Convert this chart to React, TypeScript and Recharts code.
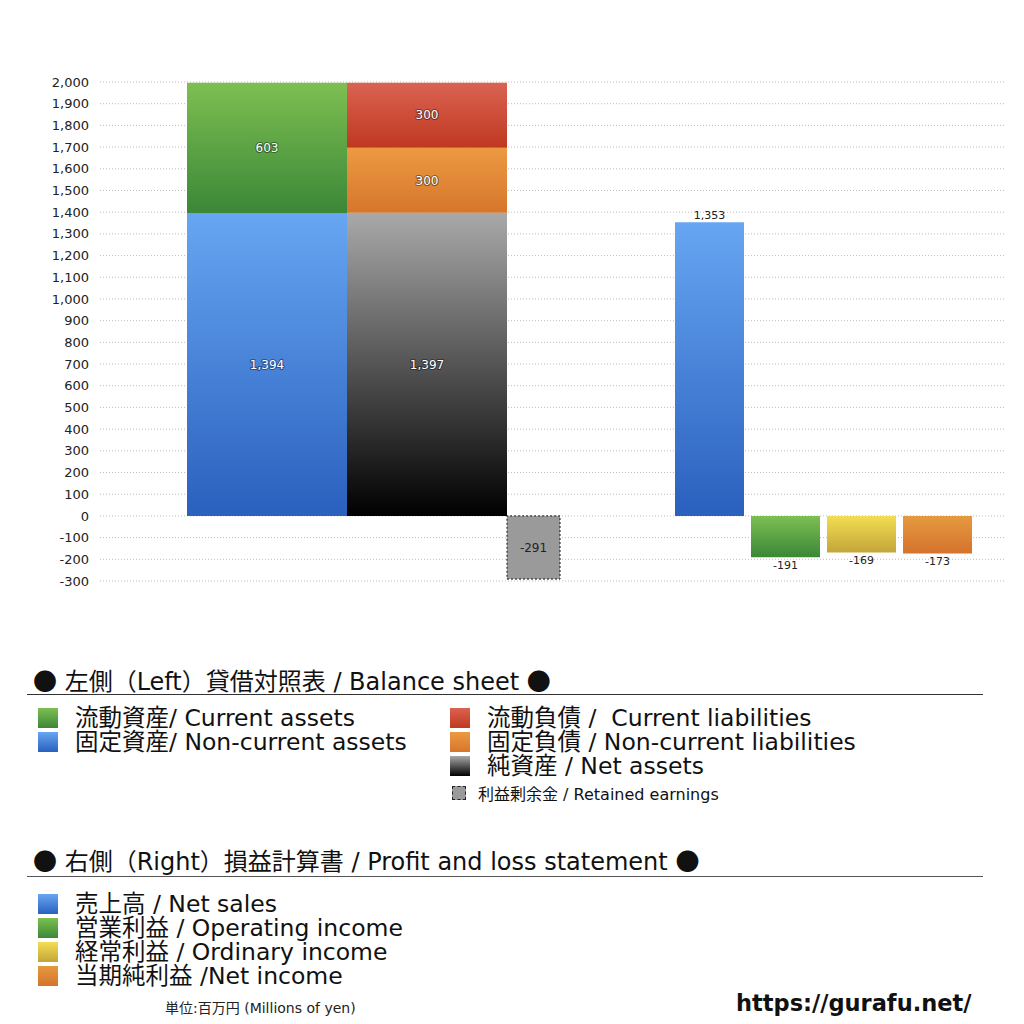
import { BarChart, Bar, XAxis, YAxis, CartesianGrid, LabelList } from "recharts";

// 左側：貸借対照表
const BS_LABELS = ["貸借対照表"];
const FIXED_ASSETS = [1394];
const CURRENT_ASSETS = [603];
const NET_ASSETS = [1397];
const NON_CURRENT_LIABILITIES = [300];
const CURRENT_LIABILITIES = [300];
const RETAINED_EARNINGS = [-291];

// 右側：損益計算書
const PL_LABELS = ["損益計算書"];
const NET_SALES = [1353];
const OPERATING_INCOME = [-191];
const ORDINARY_INCOME = [-169];
const NET_INCOME = [-173];

const Y_TICKS = [
  -300, -200, -100, 0, 100, 200, 300, 400, 500, 600, 700, 800, 900, 1000,
  1100, 1200, 1300, 1400, 1500, 1600, 1700, 1800, 1900, 2000,
];

const bsData = BS_LABELS.map((name, i) => ({
  name,
  fixedAssets: FIXED_ASSETS[i],
  currentAssets: CURRENT_ASSETS[i],
  netAssets: NET_ASSETS[i],
  nonCurrentLiabilities: NON_CURRENT_LIABILITIES[i],
  currentLiabilities: CURRENT_LIABILITIES[i],
  retainedEarnings: RETAINED_EARNINGS[i],
}));

const plData = PL_LABELS.map((name, i) => ({
  name,
  netSales: NET_SALES[i],
  operatingIncome: OPERATING_INCOME[i],
  ordinaryIncome: ORDINARY_INCOME[i],
  netIncome: NET_INCOME[i],
}));

const fmt = (v: any) => Number(v).toLocaleString("en-US");

const FONT = '"DejaVu Sans", "Noto Sans CJK JP", sans-serif';
const CJK = '"Noto Sans CJK JP", sans-serif';
const W = 1024;
const H = 600;
const MARGIN = { top: 82, right: 19, bottom: 19, left: 0 };

const GRADS: Record<string, [string, string]> = {
  blue: ["#67a6f2", "#2a60be"],
  green: ["#7dbf52", "#3b8737"],
  red: ["#da6352", "#bf3820"],
  orange: ["#ec9a42", "#d6762c"],
  gray: ["#a9a9a9", "#000000"],
  yellow: ["#f2de52", "#c4a53a"],
  plOrange: ["#e59a40", "#d5722d"],
};

const innerLabel = {
  fill: "#fff",
  fontSize: 12,
  stroke: "rgba(0,0,0,0.4)",
  strokeWidth: 2,
  paintOrder: "stroke",
};

const Gradients = ({ prefix }: { prefix: string }) => (
  <defs>
    {Object.entries(GRADS).map(([k, [a, b]]) => (
      <linearGradient key={k} id={`${prefix}-${k}`} x1="0" y1="0" x2="0" y2="1">
        <stop offset="0%" stopColor={a} />
        <stop offset="100%" stopColor={b} />
      </linearGradient>
    ))}
  </defs>
);

const Swatch = ({ c, size = 20, dashed = false }: { c: string; size?: number; dashed?: boolean }) => (
  <span
    style={{
      display: "inline-block",
      width: size,
      height: size,
      boxSizing: "border-box",
      background: dashed ? "#9a9a9a" : `linear-gradient(${GRADS[c][0]}, ${GRADS[c][1]})`,
      border: dashed ? "1px dashed #222" : "none",
      flex: "none",
    }}
  />
);

const Dot = () => <span style={{ fontFamily: CJK }}>●</span>;

const BS_LEGEND_L: [string, string][] = [
  ["green", "流動資産/ Current assets"],
  ["blue", "固定資産/ Non-current assets"],
];
const BS_LEGEND_R: [string, string][] = [
  ["red", "流動負債 /  Current liabilities"],
  ["orange", "固定負債 / Non-current liabilities"],
  ["gray", "純資産 / Net assets"],
];
const PL_LEGEND: [string, string][] = [
  ["blue", "売上高 / Net sales"],
  ["green", "営業利益 / Operating income"],
  ["yellow", "経常利益 / Ordinary income"],
  ["plOrange", "当期純利益 /Net income"],
];

const LegendRows = ({ items, left, top, textLeft }: { items: [string, string][]; left: number; top: number; textLeft: number }) => (
  <div style={{ position: "absolute", left, top }}>
    {items.map(([c, t]) => (
      <div key={t} style={{ display: "flex", alignItems: "center", height: 24 }}>
        <Swatch c={c} />
        <span style={{ marginLeft: textLeft - left - 20, fontSize: 23.5, lineHeight: "24px", whiteSpace: "pre", color: "#111" }}>{t}</span>
      </div>
    ))}
  </div>
);

export default function App() {
  return (
    <div style={{ position: "relative", width: 1024, height: 1024, fontFamily: FONT, background: "#fff" }}>
      <style>{`body{margin:0}`}</style>

      {/* 左側：貸借対照表 + 軸・グリッド */}
      <div style={{ position: "absolute", left: 0, top: 0 }}>
        <BarChart width={W} height={H} data={bsData} margin={MARGIN} barGap={0} barCategoryGap={0}>
          <Gradients prefix="bs" />
          <CartesianGrid vertical={false} stroke="#bdbdbd" strokeDasharray="1 2" />
          <XAxis dataKey="name" hide padding={{ left: 0, right: 358 }} />
          <YAxis
            width={100}
            domain={[-300, 2000]}
            ticks={Y_TICKS}
            interval={0}
            axisLine={false}
            tickLine={false}
            tickMargin={5}
            tickFormatter={fmt}
            tick={{ fontSize: 13, fill: "#222" }}
          />
          <Bar dataKey="fixedAssets" stackId="assets" barSize={160} fill="url(#bs-blue)" isAnimationActive={false}>
            <LabelList dataKey="fixedAssets" position="center" formatter={fmt} {...innerLabel} />
          </Bar>
          <Bar dataKey="currentAssets" stackId="assets" barSize={160} fill="url(#bs-green)" isAnimationActive={false}>
            <LabelList dataKey="currentAssets" position="center" formatter={fmt} {...innerLabel} />
          </Bar>
          <Bar dataKey="netAssets" stackId="liab" barSize={160} fill="url(#bs-gray)" isAnimationActive={false}>
            <LabelList dataKey="netAssets" position="center" formatter={fmt} {...innerLabel} />
          </Bar>
          <Bar dataKey="nonCurrentLiabilities" stackId="liab" barSize={160} fill="url(#bs-orange)" isAnimationActive={false}>
            <LabelList dataKey="nonCurrentLiabilities" position="center" formatter={fmt} {...innerLabel} />
          </Bar>
          <Bar dataKey="currentLiabilities" stackId="liab" barSize={160} fill="url(#bs-red)" isAnimationActive={false}>
            <LabelList dataKey="currentLiabilities" position="center" formatter={fmt} {...innerLabel} />
          </Bar>
          <Bar
            dataKey="retainedEarnings"
            stackId="re"
            barSize={53}
            fill="#9a9a9a"
            stroke="#111"
            strokeDasharray="2 2"
            isAnimationActive={false}
          >
            <LabelList dataKey="retainedEarnings" position="center" formatter={fmt} fill="#222" fontSize={12} />
          </Bar>
        </BarChart>
      </div>

      {/* 右側：損益計算書 */}
      <div style={{ position: "absolute", left: 0, top: 0 }}>
        <BarChart width={W} height={H} data={plData} margin={{ ...MARGIN, left: 100 }} barGap={7} barCategoryGap={0}>
          <Gradients prefix="pl" />
          <XAxis dataKey="name" hide padding={{ left: 542, right: 0 }} />
          <YAxis hide domain={[-300, 2000]} ticks={Y_TICKS} />
          <Bar dataKey="netSales" barSize={69} fill="url(#pl-blue)" isAnimationActive={false}>
            <LabelList dataKey="netSales" position="top" offset={3} formatter={fmt} fill="#222" fontSize={11} />
          </Bar>
          <Bar dataKey="operatingIncome" barSize={69} fill="url(#pl-green)" isAnimationActive={false}>
            <LabelList dataKey="operatingIncome" position="top" offset={4} formatter={fmt} fill="#222" fontSize={11} />
          </Bar>
          <Bar dataKey="ordinaryIncome" barSize={69} fill="url(#pl-yellow)" isAnimationActive={false}>
            <LabelList dataKey="ordinaryIncome" position="top" offset={4} formatter={fmt} fill="#222" fontSize={11} />
          </Bar>
          <Bar dataKey="netIncome" barSize={69} fill="url(#pl-plOrange)" isAnimationActive={false}>
            <LabelList dataKey="netIncome" position="top" offset={4} formatter={fmt} fill="#222" fontSize={11} />
          </Bar>
        </BarChart>
      </div>

      {/* 凡例：貸借対照表 */}
      <div style={{ position: "absolute", left: 33, top: 666, fontSize: 24, lineHeight: "28px", whiteSpace: "nowrap", color: "#111" }}>
        <Dot /> 左側（Left）貸借対照表 / Balance sheet <Dot />
      </div>
      <div style={{ position: "absolute", left: 27, top: 694, width: 956, height: 1, background: "#333" }} />
      <LegendRows items={BS_LEGEND_L} left={38} top={706} textLeft={75} />
      <LegendRows items={BS_LEGEND_R} left={450} top={706} textLeft={487} />
      <div style={{ position: "absolute", left: 452, top: 783, display: "flex", alignItems: "center", height: 20 }}>
        <Swatch c="gray" size={14} dashed />
        <span style={{ marginLeft: 12, fontSize: 16, color: "#111", whiteSpace: "nowrap" }}>利益剰余金 / Retained earnings</span>
      </div>

      {/* 凡例：損益計算書 */}
      <div style={{ position: "absolute", left: 33, top: 846, fontSize: 24, lineHeight: "28px", whiteSpace: "nowrap", color: "#111" }}>
        <Dot /> 右側（Right）損益計算書 / Profit and loss statement <Dot />
      </div>
      <div style={{ position: "absolute", left: 27, top: 876, width: 956, height: 1, background: "#555" }} />
      <LegendRows items={PL_LEGEND} left={38} top={892} textLeft={75} />

      <div style={{ position: "absolute", left: 165, top: 997, fontSize: 14, color: "#222", whiteSpace: "nowrap" }}>
        単位:百万円 (Millions of yen)
      </div>
      <div style={{ position: "absolute", left: 736, top: 990, fontSize: 22.5, fontWeight: 700, color: "#111", whiteSpace: "nowrap" }}>
        https://gurafu.net/
      </div>
    </div>
  );
}
